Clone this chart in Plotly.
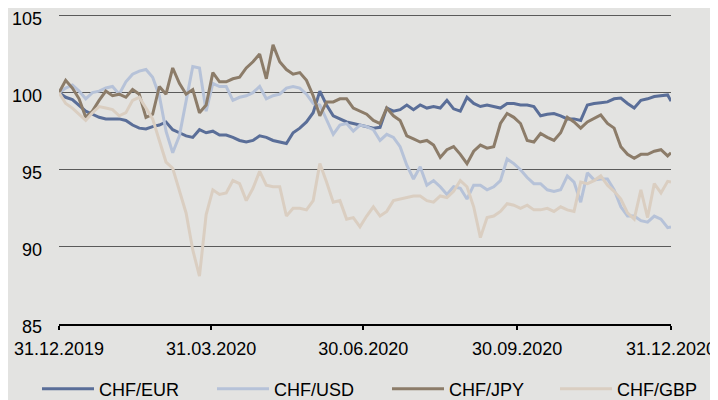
import pandas as pd
import plotly.graph_objects as go

dates = list(pd.date_range("2019-12-31", periods=92, freq="4D")) + [pd.Timestamp("2020-12-31")]

chf_eur = [100.0, 99.7, 99.55, 99.2, 98.8, 98.6, 98.4, 98.3, 98.3, 98.3, 98.2, 97.9, 97.7, 97.65, 97.8, 97.9,
           98.1, 97.6, 97.4, 97.2, 97.1, 97.6, 97.4, 97.5, 97.25, 97.25, 97.1, 96.9, 96.8, 96.9, 97.2, 97.1,
           96.9, 96.8, 96.7, 97.4, 97.7, 98.1, 98.7, 100.1, 99.2, 98.5, 98.3, 98.1, 98.0, 97.9, 97.8, 97.7,
           97.75, 99.0, 98.8, 98.9, 99.2, 98.9, 99.2, 99.0, 99.1, 99.0, 99.5, 98.95, 98.8, 99.7, 99.3, 99.1,
           99.2, 99.1, 99.0, 99.3, 99.3, 99.2, 99.2, 99.1, 98.5, 98.6, 98.65, 98.5, 98.3, 98.3, 98.2, 99.2,
           99.3, 99.35, 99.4, 99.6, 99.65, 99.3, 99.0, 99.5, 99.6, 99.75, 99.8, 99.85, 99.45]
chf_usd = [100.0, 100.3, 100.5, 100.1, 99.6, 100.0, 100.1, 100.3, 100.4, 99.9, 100.7, 101.2, 101.4, 101.5, 101.0, 99.8,
           97.5, 96.1, 97.2, 99.5, 101.7, 101.6, 98.8, 100.6, 100.4, 100.4, 99.5, 99.7, 99.8, 100.0, 100.4, 99.6,
           99.8, 99.9, 100.3, 100.4, 100.3, 99.9, 99.3, 99.2, 98.2, 97.3, 97.9, 98.0, 97.5, 97.9, 97.8, 97.6,
           96.9, 97.3, 97.1, 96.5, 95.3, 94.4, 95.2, 94.0, 94.3, 93.9, 93.4, 93.9, 93.8, 93.1, 94.0, 94.0,
           93.7, 93.9, 94.3, 95.7, 95.4, 95.0, 94.5, 94.1, 94.1, 93.7, 93.6, 93.7, 94.6, 94.2, 92.9, 94.8,
           94.35, 94.4, 94.4, 93.7, 92.6, 92.0, 92.0, 91.7, 91.6, 92.0, 91.8, 91.25, 91.3]
chf_jpy = [100.0, 100.8, 100.3, 99.6, 98.4, 98.8, 99.5, 100.1, 99.8, 99.9, 99.7, 100.2, 99.9, 98.4, 98.6, 100.4,
           99.9, 101.6, 100.6, 99.9, 100.2, 98.7, 99.2, 101.3, 100.7, 100.7, 100.9, 101.0, 101.6, 102.0, 102.5, 100.9,
           103.1, 102.0, 101.5, 101.2, 101.3, 100.8, 99.8, 98.5, 99.4, 99.4, 99.6, 99.6, 99.0, 98.8, 98.6, 98.2,
           98.0, 99.0, 98.5, 98.2, 97.2, 97.0, 96.8, 96.9, 96.6, 95.8, 96.3, 96.5, 96.0, 95.4, 96.2, 96.6,
           96.4, 96.5, 98.0, 98.65, 98.4, 98.0, 96.9, 96.8, 97.35, 97.1, 96.9, 97.4, 98.4, 98.1, 97.7, 98.1,
           98.3, 98.55, 98.0, 97.7, 96.5, 96.0, 95.75, 96.0, 96.0, 96.2, 96.3, 95.9, 96.1]
chf_gbp = [100.0, 99.3, 99.0, 98.6, 98.2, 98.7, 99.1, 99.0, 98.9, 98.5, 98.7, 99.5, 99.7, 99.0, 98.3, 96.9,
           95.5, 95.1, 93.6, 92.2, 89.8, 88.1, 92.1, 93.7, 93.4, 93.5, 94.3, 94.1, 93.0, 93.8, 94.9, 94.0,
           93.9, 93.9, 92.0, 92.5, 92.5, 92.4, 93.0, 95.4, 94.2, 92.9, 93.0, 91.8, 91.9, 91.3, 92.0, 92.6,
           92.0, 92.3, 93.0, 93.1, 93.2, 93.3, 93.3, 93.0, 92.9, 93.3, 93.2, 93.6, 94.3, 93.9, 92.6, 90.6,
           91.9, 92.0, 92.3, 92.8, 92.7, 92.5, 92.7, 92.4, 92.4, 92.5, 92.3, 92.6, 92.4, 92.3, 94.2, 94.1,
           94.3, 94.6, 94.0, 93.6, 93.1, 92.2, 91.8, 93.7, 91.9, 94.1, 93.5, 94.25, 94.2]

series_names = ["CHF/EUR", "CHF/USD", "CHF/JPY", "CHF/GBP"]
series_colors = ["#5a6e98", "#b6c2d8", "#8c7c69", "#dacec1"]
series_values = [chf_eur, chf_usd, chf_jpy, chf_gbp]
series_legends = ["legend", "legend", "legend", "legend2"]

tick_dates = ["2019-12-31", "2020-03-31", "2020-06-30", "2020-09-30", "2020-12-31"]
tick_labels = ["31.12.2019", "31.03.2020", "30.06.2020", "30.09.2020", "31.12.2020"]
y_ticks = [85, 90, 95, 100, 105]
y_range = [85, 105.1]

fig = go.Figure()
for name, color, vals, lg in zip(series_names, series_colors, series_values, series_legends):
    fig.add_trace(go.Scatter(x=dates, y=vals, name=name, mode="lines", legend=lg,
                             line=dict(color=color, width=3)))

font = dict(family="Liberation Sans, Arial, sans-serif", size=18, color="#000000")
legend_common = dict(orientation="h", xref="container", yref="container",
                     xanchor="left", y=0.0475, yanchor="middle",
                     itemwidth=52, entrywidth=108, entrywidthmode="pixels",
                     bgcolor="rgba(0,0,0,0)", font=font)
fig.update_layout(
    width=718, height=400,
    margin=dict(l=51, r=55, t=5.5, b=83.5, autoexpand=False),
    paper_bgcolor="#e3e3e1", plot_bgcolor="#e3e3e1",
    font=font,
    showlegend=True,
    legend=dict(x=29 / 718, **legend_common),
    legend2=dict(x=547 / 718, **legend_common),
    xaxis=dict(type="date", range=["2019-12-31", "2020-12-31"], automargin=False,
               tickmode="array", tickvals=tick_dates, ticktext=tick_labels,
               showgrid=False, zeroline=False,
               showline=True, linecolor="#000000", linewidth=2,
               ticks="outside", ticklen=4, tickwidth=2, tickcolor="#000000",
               ticklabelstandoff=3, ticklabeloverflow="allow"),
    yaxis=dict(range=y_range, tickmode="array", tickvals=y_ticks, automargin=False,
               showgrid=True, gridcolor="#5a5a5a", gridwidth=1.2,
               zeroline=False, showline=False, ticks="",
               ticklabelstandoff=16, ticklabelshift=3, ticklabeloverflow="allow"),
)

fig.write_html("out.html")
